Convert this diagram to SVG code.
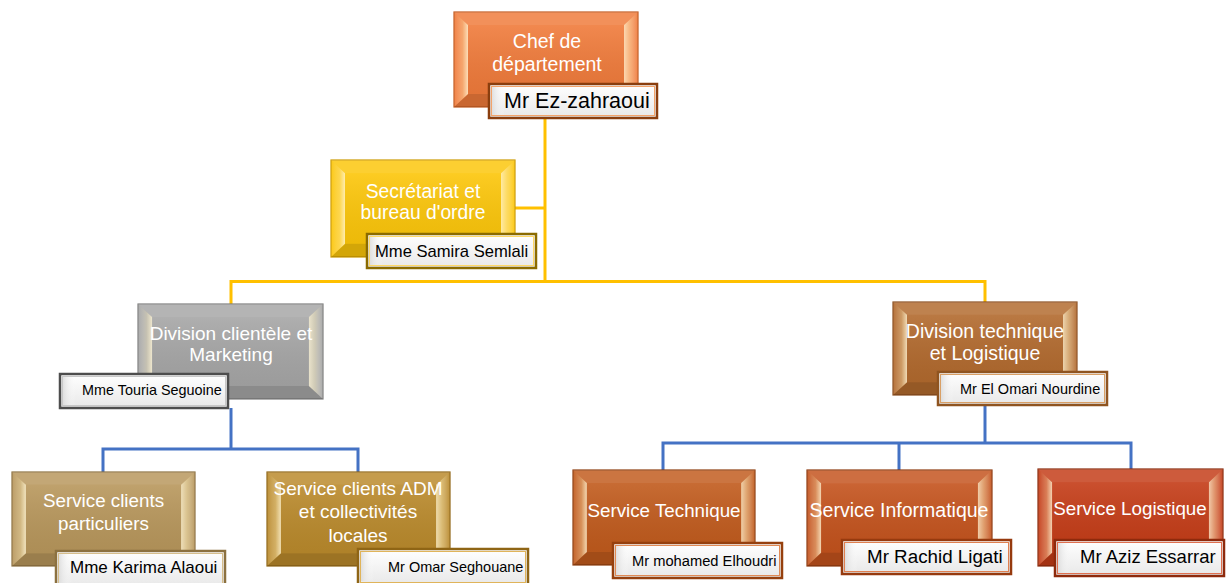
<svg xmlns="http://www.w3.org/2000/svg" xmlns:xlink="http://www.w3.org/1999/xlink" width="1226" height="583" viewBox="0 0 1226 583">
  <style>
    .box { fill: var(--base); stroke: var(--edge); stroke-width: 1.2; }
    .face { fill: url(#faceShade); }
    .lbl { font-family: "Liberation Sans", Arial, sans-serif; fill: #ffffff; text-anchor: middle; }
    .nbox { fill: url(#nameFill); stroke: var(--dark); stroke-width: 2.5; }
    .nin { fill: none; stroke: var(--light); stroke-width: 1; }
    .name { font-family: "Liberation Sans", Arial, sans-serif; fill: #000000; }
    .gold { fill: none; stroke: #FFC000; stroke-width: 3; }
    .blue { fill: none; stroke: #4472C4; stroke-width: 3; }
  </style>
  <defs>
    <linearGradient id="faceShade" x1="0" y1="0" x2="0" y2="1">
      <stop offset="0" stop-color="#ffffff" stop-opacity="0.10"/>
      <stop offset="1" stop-color="#000000" stop-opacity="0.06"/>
    </linearGradient>
    <linearGradient id="bevLeft" x1="0" y1="0" x2="1" y2="0">
      <stop offset="0" stop-color="#ffffff" stop-opacity="0.05"/>
      <stop offset="0.6" stop-color="#FFF3C8" stop-opacity="0.35"/>
      <stop offset="1" stop-color="#FFF6D8" stop-opacity="0.8"/>
    </linearGradient>
    <linearGradient id="bevRight" x1="0" y1="0" x2="1" y2="0">
      <stop offset="0" stop-color="#FFF6D8" stop-opacity="0.75"/>
      <stop offset="0.45" stop-color="#FFF3C8" stop-opacity="0.45"/>
      <stop offset="1" stop-color="#ffffff" stop-opacity="0.05"/>
    </linearGradient>
    <linearGradient id="nameFill" x1="0" y1="0" x2="0" y2="1">
      <stop offset="0" stop-color="#ffffff"/>
      <stop offset="1" stop-color="#E8E8E8"/>
    </linearGradient>
    <linearGradient id="nameSide" x1="0" y1="0" x2="1" y2="0">
      <stop offset="0" stop-color="#D8D8D8" stop-opacity="0.9"/>
      <stop offset="1" stop-color="#ffffff" stop-opacity="0"/>
    </linearGradient>
    <!-- bevel frame laid over every coloured box -->
    <symbol id="bevel" viewBox="0 0 184 95" preserveAspectRatio="none">
      <path d="M0,0 H184 L170,13 H14 Z" fill="#ffffff" fill-opacity="0.16"/>
      <path d="M0,95 H184 L170,82 H14 Z" fill="#000000" fill-opacity="0.16"/>
      <path d="M0,0 L14,13 V82 L0,95 Z" fill="url(#bevLeft)"/>
      <path d="M184,0 L170,13 V82 L184,95 Z" fill="url(#bevRight)"/>
      <rect x="14" y="13" width="156" height="69" class="face"/>
    </symbol>
    <!-- soft left shading inside name tags -->
    <symbol id="tagShade" viewBox="0 0 170 34" preserveAspectRatio="none">
      <rect x="2" y="2" width="14" height="30" fill="url(#nameSide)"/>
    </symbol>
  </defs>

  <rect width="1226" height="583" fill="#ffffff"/>

  <g id="connectors">
    <path class="gold" d="M545,118 V281"/>
    <path class="gold" d="M515,208 H545"/>
    <path class="gold" d="M231,304 V281.5 H985 V302"/>
    <path class="blue" d="M231,408 V449"/>
    <path class="blue" d="M103,472 V449 H358 V472"/>
    <path class="blue" d="M985,405 V443"/>
    <path class="blue" d="M663,470 V443 H1131 V469"/>
    <path class="blue" d="M899,443 V470"/>
  </g>

  <g id="chef" style="--base:#F07B3B;--edge:#C25A20;--dark:#8A3E0E;--light:#F3A46B">
    <rect class="box" x="454" y="12" width="184" height="95"/>
    <use href="#bevel" x="454" y="12" width="184" height="95"/>
    <text class="lbl" font-size="19.5"><tspan x="547" y="48">Chef de</tspan><tspan x="547" y="71">département</tspan></text>
    <rect class="nbox" x="489" y="84" width="168" height="34"/>
    <use href="#tagShade" x="489" y="84" width="168" height="34"/>
    <rect class="nin" x="491.5" y="86.5" width="163" height="29"/>
    <text class="name" x="504" y="108" font-size="21.5">Mr Ez-zahraoui</text>
  </g>

  <g id="secretariat" style="--base:#FCC60A;--edge:#CC9A00;--dark:#8B6B00;--light:#FFD966">
    <rect class="box" x="331" y="160" width="184" height="97"/>
    <use href="#bevel" x="331" y="160" width="184" height="97"/>
    <text class="lbl" font-size="19.3"><tspan x="423" y="198">Secrétariat et</tspan><tspan x="423" y="219">bureau d'ordre</tspan></text>
    <rect class="nbox" x="367" y="234" width="169" height="34"/>
    <use href="#tagShade" x="367" y="234" width="169" height="34"/>
    <rect class="nin" x="369.5" y="236.5" width="164" height="29"/>
    <text class="name" x="375" y="257" font-size="16.6">Mme Samira Semlali</text>
  </g>

  <g id="division-clientele" style="--base:#A6A6A6;--edge:#7F7F7F;--dark:#4D4D4D;--light:#C8C8C8">
    <rect class="box" x="138" y="304" width="185" height="95"/>
    <use href="#bevel" x="138" y="304" width="185" height="95"/>
    <text class="lbl" font-size="19"><tspan x="231" y="340">Division clientèle et</tspan><tspan x="231" y="361">Marketing</tspan></text>
    <rect class="nbox" x="60" y="374" width="168" height="34"/>
    <use href="#tagShade" x="60" y="374" width="168" height="34"/>
    <rect class="nin" x="62.5" y="376.5" width="163" height="29"/>
    <text class="name" x="82" y="395" font-size="14.4">Mme Touria Seguoine</text>
  </g>

  <g id="division-technique" style="--base:#B26A2E;--edge:#8A4E1E;--dark:#8F5420;--light:#D9A066">
    <rect class="box" x="893" y="302" width="184" height="93"/>
    <use href="#bevel" x="893" y="302" width="184" height="93"/>
    <text class="lbl" font-size="19.5"><tspan x="985" y="338">Division technique</tspan><tspan x="985" y="360">et Logistique</tspan></text>
    <rect class="nbox" x="938" y="372" width="169" height="33"/>
    <use href="#tagShade" x="938" y="372" width="169" height="33"/>
    <rect class="nin" x="940.5" y="374.5" width="164" height="28"/>
    <text class="name" x="960" y="394" font-size="14.5">Mr El Omari Nourdine</text>
  </g>

  <g id="service-particuliers" style="--base:#B8975C;--edge:#8C7140;--dark:#8C7140;--light:#D6BE8C">
    <rect class="box" x="12" y="472" width="183" height="94"/>
    <use href="#bevel" x="12" y="472" width="183" height="94"/>
    <text class="lbl" font-size="18.8"><tspan x="103.5" y="507">Service clients</tspan><tspan x="103.5" y="530">particuliers</tspan></text>
    <rect class="nbox" x="56" y="551" width="169" height="36"/>
    <use href="#tagShade" x="56" y="551" width="169" height="34"/>
    <rect class="nin" x="58.5" y="553.5" width="164" height="31"/>
    <text class="name" x="70" y="573" font-size="17">Mme Karima Alaoui</text>
  </g>

  <g id="service-adm" style="--base:#BA8A2C;--edge:#8F6515;--dark:#8F6515;--light:#E0B45A">
    <rect class="box" x="267" y="472" width="183" height="94"/>
    <use href="#bevel" x="267" y="472" width="183" height="94"/>
    <text class="lbl" font-size="19"><tspan x="358" y="495">Service clients ADM</tspan><tspan x="358" y="518">et collectivités</tspan><tspan x="358" y="542">locales</tspan></text>
    <rect class="nbox" x="358" y="549" width="170" height="36"/>
    <use href="#tagShade" x="358" y="549" width="170" height="34"/>
    <rect class="nin" x="360.5" y="551.5" width="165" height="31"/>
    <text class="name" x="388" y="572" font-size="14.5">Mr Omar Seghouane</text>
  </g>

  <g id="service-technique" style="--base:#C15B1D;--edge:#8E3E10;--dark:#96400E;--light:#E08A55">
    <rect class="box" x="573" y="470" width="182" height="95"/>
    <use href="#bevel" x="573" y="470" width="182" height="95"/>
    <text class="lbl" font-size="18.8" x="664" y="517">Service Technique</text>
    <rect class="nbox" x="613" y="543" width="169" height="35"/>
    <use href="#tagShade" x="613" y="543" width="169" height="35"/>
    <rect class="nin" x="615.5" y="545.5" width="164" height="30"/>
    <text class="name" x="632" y="566" font-size="14.7">Mr mohamed Elhoudri</text>
  </g>

  <g id="service-informatique" style="--base:#C4531D;--edge:#8E3A10;--dark:#963A0E;--light:#E08050">
    <rect class="box" x="807" y="470" width="185" height="96"/>
    <use href="#bevel" x="807" y="470" width="185" height="96"/>
    <text class="lbl" font-size="19.5" x="899" y="517">Service Informatique</text>
    <rect class="nbox" x="842" y="540" width="169" height="34"/>
    <use href="#tagShade" x="842" y="540" width="169" height="34"/>
    <rect class="nin" x="844.5" y="542.5" width="164" height="29"/>
    <text class="name" x="867" y="563" font-size="18.8">Mr Rachid Ligati</text>
  </g>

  <g id="service-logistique" style="--base:#C43C17;--edge:#8A2A0C;--dark:#8E2A0C;--light:#E07050">
    <rect class="box" x="1038" y="469" width="185" height="97"/>
    <use href="#bevel" x="1038" y="469" width="185" height="97"/>
    <text class="lbl" font-size="18.8" x="1130" y="515">Service Logistique</text>
    <rect class="nbox" x="1055" y="540" width="169" height="36"/>
    <use href="#tagShade" x="1055" y="540" width="169" height="36"/>
    <rect class="nin" x="1057.5" y="542.5" width="164" height="31"/>
    <text class="name" x="1080" y="563" font-size="18.5">Mr Aziz Essarrar</text>
  </g>
</svg>
